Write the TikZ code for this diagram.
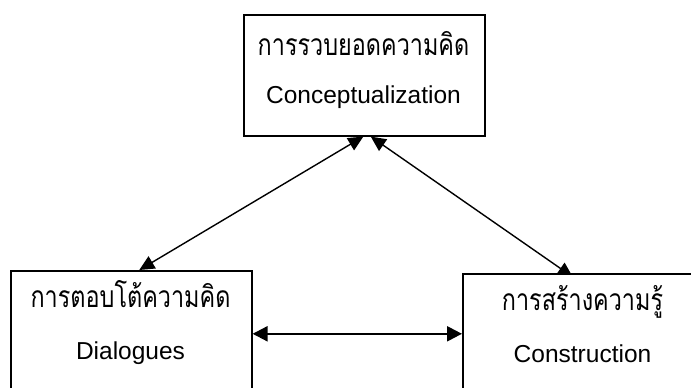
\documentclass[tikz,border=0pt]{standalone}
\usepackage{fontspec}
\setmainfont{Liberation Sans}
\newfontfamily\thaifont[Script=Thai,FakeStretch=0.78]{Loma}
\usetikzlibrary{arrows.meta,backgrounds}
\tikzset{
  box/.style={draw=black, line width=1.6pt, fill=white, rectangle,
    minimum width=241pt, minimum height=121pt, inner sep=0pt, anchor=north west},
  thaitext/.style={font=\thaifont\fontsize{30}{34}\selectfont, anchor=base, inner sep=0pt},
  engtext/.style={font=\fontsize{24.5}{28}\selectfont, anchor=base, inner sep=0pt},
  link/.style={line width=1.4pt, {Triangle[length=15pt,width=14pt]}-{Triangle[length=15pt,width=14pt]}},
  hlink/.style={line width=2.2pt, {Triangle[length=15pt,width=15pt]}-{Triangle[length=15pt,width=15pt]}}
}
\begin{document}
\begin{tikzpicture}[x=1pt,y=-1pt]
  \useasboundingbox (0,0) rectangle (691,388);
  \clip (0,0) rectangle (691,388);

  % the three boxes
  \node[box] (top) at (243,14) {};
  \node[box] (dlg) at (10,270) {};
  \node[box] (con) at (462,273) {};

  % box captions
  \node[thaitext] (topth) at (363.5,55) {การรวบยอดความคิด};
  \node[engtext]  (topen) at (363.5,103) {Conceptualization};
  \node[thaitext] (dlgth) at (130.5,307) {การตอบโต้ความคิด};
  \node[engtext]  (dlgen) at (130.5,359) {Dialogues};
  \node[thaitext] (conth) at (582.5,310) {การสร้างความรู้};
  \node[engtext]  (conen) at (582.5,362) {Construction};

  % white page and two-way links, drawn under the boxes
  \begin{scope}[on background layer]
    \fill[white] (0,0) rectangle (691,388);
    \draw[link] ([xshift=-1pt]top.south) -- ([xshift=8pt]dlg.north);
    \draw[link] ([xshift=6.5pt]top.south) -- ([xshift=-10.5pt,yshift=-4pt]con.north);
    \draw[hlink] ([yshift=-2.5pt]dlg.east) -- ([yshift=-2.5pt]dlg.east -| con.west);
  \end{scope}
\end{tikzpicture}
\end{document}
